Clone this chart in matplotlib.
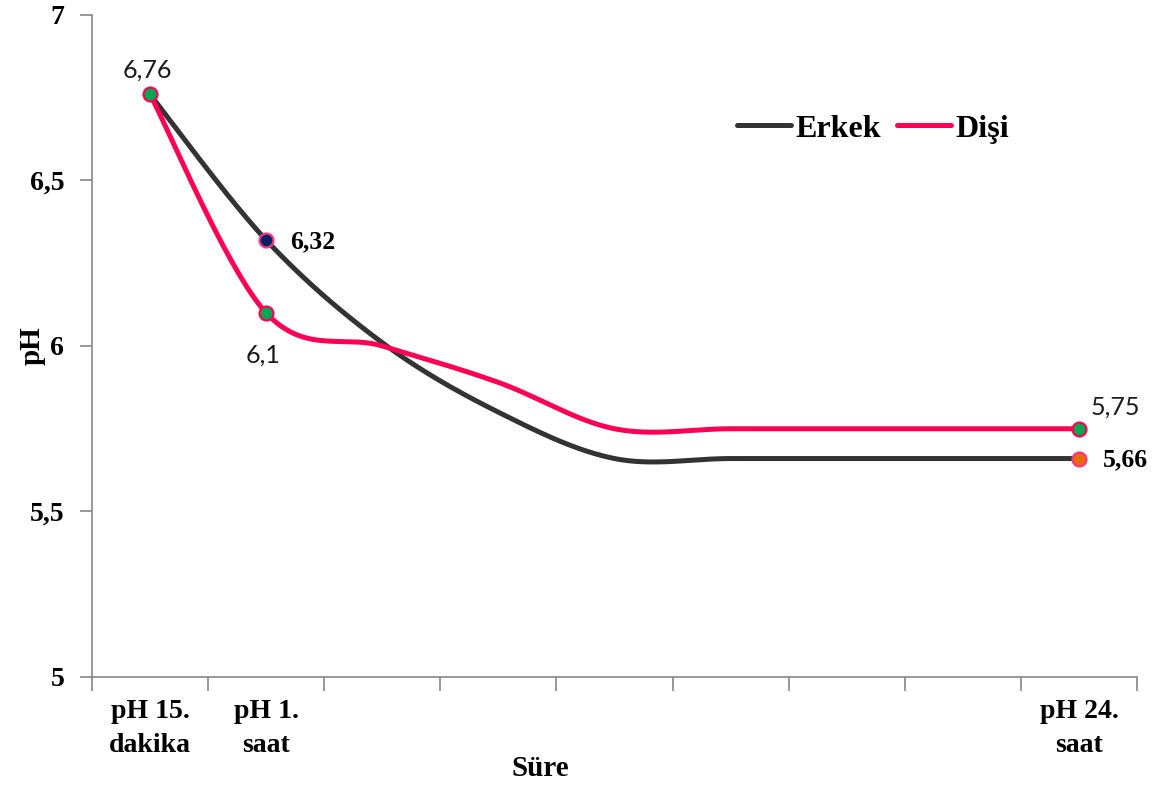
import numpy as np
import matplotlib
matplotlib.use("Agg")
import matplotlib.pyplot as plt
from matplotlib.lines import Line2D

# pH readings per time slot (9 category slots, labelled at 1st, 2nd and last)
slots = list(range(9))
slot_labels = ["pH 15.\ndakika", "pH 1.\nsaat", "", "", "", "", "", "", "pH 24.\nsaat"]
erkek = [6.76, 6.32, 6.01, 5.80, 5.66, 5.66, 5.66, 5.66, 5.66]
disi = [6.76, 6.10, 6.00, 5.89, 5.75, 5.75, 5.75, 5.75, 5.75]

BLACK = "#333333"
RED = "#ff0055"
GREEN = "#00a651"
NAVY = "#002366"
ORANGE = "#e46c0a"
SERIF = "Liberation Serif"


def smooth(xs, ys, n=60):
    # Bezier smoothing through each point, control points at 1/6 of neighbour span
    xs = np.asarray(xs, float)
    ys = np.asarray(ys, float)
    px = np.concatenate([[xs[0]], xs, [xs[-1]]])
    py = np.concatenate([[ys[0]], ys, [ys[-1]]])
    out_x, out_y = [], []
    t = np.linspace(0, 1, n)
    for i in range(1, len(xs)):
        x0, x1, x2, x3 = px[i - 1], px[i], px[i + 1], px[i + 2]
        y0, y1, y2, y3 = py[i - 1], py[i], py[i + 1], py[i + 2]
        c1x, c1y = x1 + (x2 - x0) / 6, y1 + (y2 - y0) / 6
        c2x, c2y = x2 - (x3 - x1) / 6, y2 - (y3 - y1) / 6
        a, b, c, d = (1 - t) ** 3, 3 * (1 - t) ** 2 * t, 3 * (1 - t) * t ** 2, t ** 3
        out_x.append(a * x1 + b * c1x + c * c2x + d * x2)
        out_y.append(a * y1 + b * c1y + c * c2y + d * y2)
    return np.concatenate(out_x), np.concatenate(out_y)


fig = plt.figure(figsize=(11.65, 7.87), dpi=100)
ax = fig.add_axes([92 / 1165, 1 - 677 / 787, 1045 / 1165, 662 / 787])

ex, ey = smooth(slots, erkek)
dx, dy = smooth(slots, disi)
ax.plot(ex, ey, color=BLACK, lw=3.6, solid_capstyle="round", zorder=3)
ax.plot(dx, dy, color=RED, lw=3.6, solid_capstyle="round", zorder=4)

mk = dict(marker="o", markersize=10, markeredgewidth=1.6, linestyle="none", zorder=5)
ax.plot(slots[1], erkek[1], markerfacecolor=NAVY, markeredgecolor="#ff3385", **mk)
ax.plot(slots[8], erkek[8], markerfacecolor=ORANGE, markeredgecolor="#ff3385", **mk)
for i in (0, 1, 8):
    ax.plot(slots[i], disi[i], markerfacecolor=GREEN, markeredgecolor=RED, **mk)


def fmt(v):
    return f"{v:g}".replace(".", ",")


light = dict(fontsize=18, family="Lato", fontweight="normal", color="#1a1a1a")
bold = dict(fontsize=18.5, family=SERIF, fontweight="bold", color="black")
ax.annotate(fmt(disi[0]), (slots[0], disi[0]), xytext=(-3, 24), textcoords="offset pixels",
            ha="center", va="center", **light)
ax.annotate(fmt(erkek[1]), (slots[1], erkek[1]), xytext=(24, -2), textcoords="offset pixels",
            ha="left", va="center", **bold)
ax.annotate(fmt(disi[1]), (slots[1], disi[1]), xytext=(-3, -42), textcoords="offset pixels",
            ha="center", va="center", **light)
ax.annotate(fmt(disi[8]), (slots[8], disi[8]), xytext=(36, 22), textcoords="offset pixels",
            ha="center", va="center", **light)
ax.annotate(fmt(erkek[8]), (slots[8], erkek[8]), xytext=(24, -1), textcoords="offset pixels",
            ha="left", va="center", **bold)

ax.set_xlim(-0.5, 8.5)
ax.set_ylim(5, 7)

ax.set_yticks([5, 5.5, 6, 6.5, 7])
ax.set_yticklabels(["5", "5,5", "6", "6,5", "7"], family=SERIF, fontweight="bold", fontsize=20)
ax.tick_params(axis="y", length=9, width=1.2, color="#868686", pad=11)

ax.set_xticks(np.arange(-0.5, 9, 1))
ax.set_xticklabels([])
ax.tick_params(axis="x", which="major", length=10, width=1.2, color="#868686")
ax.set_xticks(slots, minor=True)
ax.set_xticklabels(slot_labels, minor=True, family=SERIF, fontweight="bold",
                   fontsize=20, linespacing=1.45)
ax.tick_params(axis="x", which="minor", length=0, pad=16)

for side in ("top", "right"):
    ax.spines[side].set_visible(False)
for side in ("left", "bottom"):
    ax.spines[side].set_color("#868686")
    ax.spines[side].set_linewidth(1.2)

fig.text(32 / 1165, 1 - 346 / 787, "pH", rotation=90, ha="center", va="center",
         family=SERIF, fontweight="bold", fontsize=21)
fig.text(540 / 1165, 1 - 768 / 787, "Süre", ha="center", va="center",
         family=SERIF, fontweight="bold", fontsize=21)

handles = [Line2D([], [], color=BLACK, lw=3.6, solid_capstyle="round"),
           Line2D([], [], color=RED, lw=3.6, solid_capstyle="round")]
leg = ax.legend(handles, ["Erkek", "Dişi"], loc="center", bbox_to_anchor=(873 / 1165, 1 - 129 / 787),
                bbox_transform=fig.transFigure, ncol=2, frameon=False, handlelength=1.7,
                handletextpad=0.12, columnspacing=0.5,
                prop=dict(family=SERIF, weight="bold", size=23))

fig.savefig("out.png", dpi=100)
